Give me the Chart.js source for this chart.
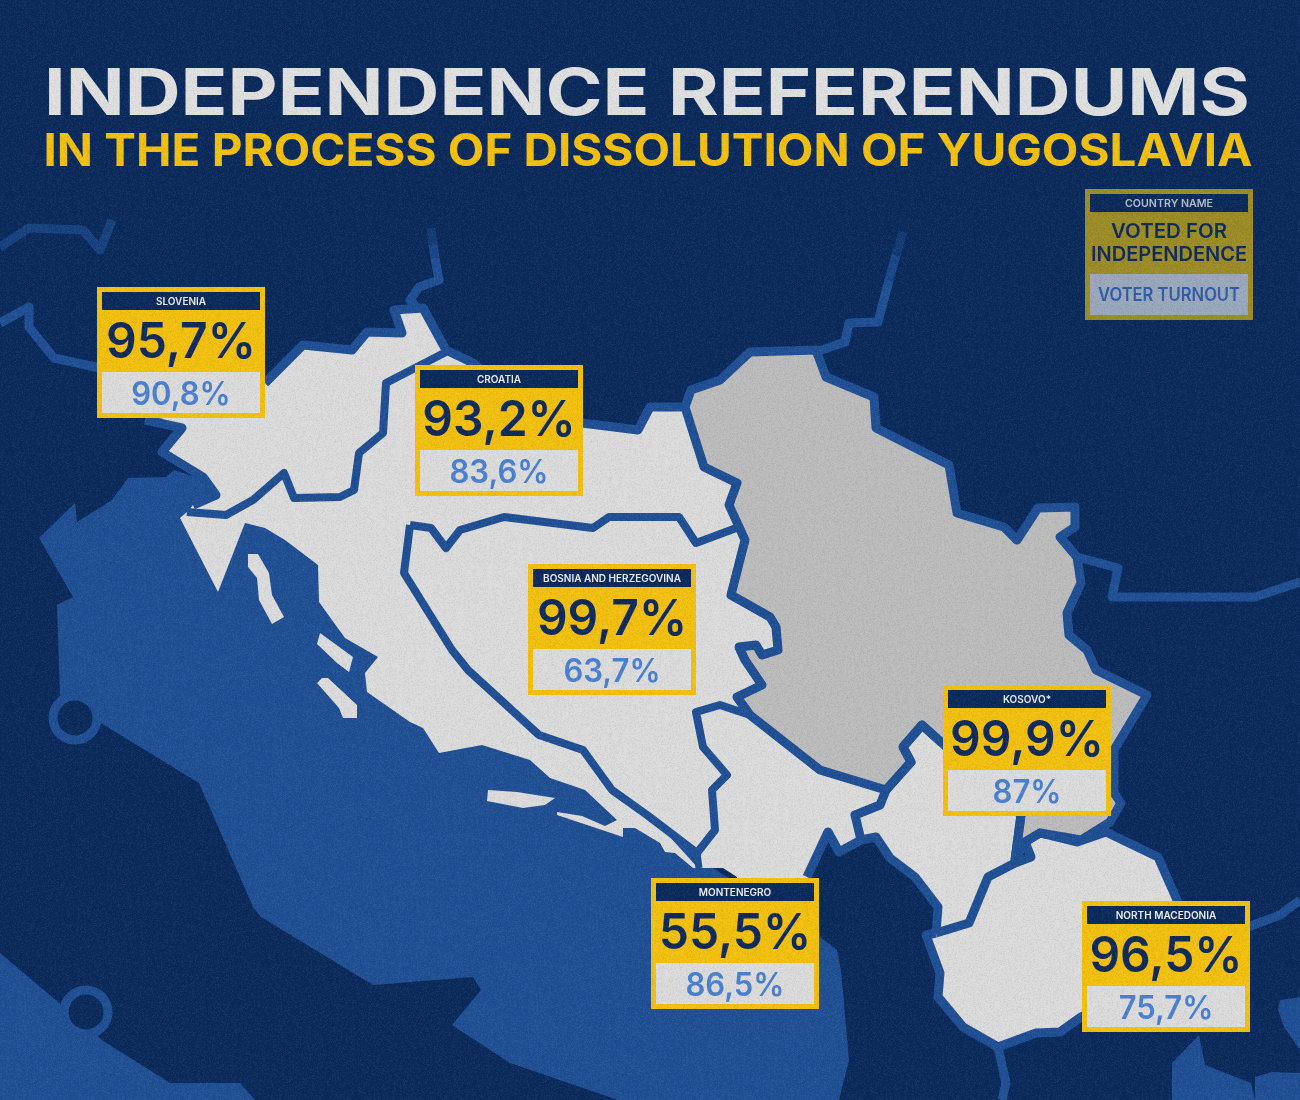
<!DOCTYPE html>
<html>
<head>
<meta charset="utf-8">
<title>Independence referendums</title>
<script src="https://cdn.jsdelivr.net/npm/chart.js@4"></script>
<style>
  html, body { margin: 0; padding: 0; background: #0c2b5e; }
  canvas { display: block; }
</style>
</head>
<body>
<canvas id="map" width="1300" height="1100"></canvas>
<script>
// values
const countries = ["SLOVENIA", "CROATIA", "BOSNIA AND HERZEGOVINA", "KOSOVO*", "MONTENEGRO", "NORTH MACEDONIA"];
const votedFor = ["95,7%", "93,2%", "99,7%", "99,9%", "55,5%", "96,5%"];
const turnout = ["90,8%", "83,6%", "63,7%", "87%", "86,5%", "75,7%"];
const cardX = [97, 415, 528, 943, 651, 1082];
const cardY = [287, 365, 564, 685, 878, 901];

// map outlines, in picture units
const adriatic = [[128,478],[166,477],[174,470],[205,480],[300,520],[400,650],[600,760],[700,860],[740,885],[815,885],[820,937],[837,950],[841,970],[849,1060],[839,1100],[618,1100],[510,1063],[452,1025],[481,990],[473,977],[373,985],[261,917],[253,907],[199,783],[104,725],[60,695],[57,605],[73,597],[39,538],[75,503],[77,522],[112,500]];
const sicily = [[0,953],[58,1002],[102,1040],[170,1083],[240,1083],[255,1100],[0,1100]];
const greeceA = [[1199,1035],[1205,1065],[1251,1083],[1255,1100],[1172,1100],[1172,1063]];
const greeceB = [[1280,1000],[1300,997],[1300,1050],[1284,1027],[1278,1010]];
const greeceC = [[1255,1077],[1272,1072],[1300,1073],[1300,1100],[1255,1100]];
const cityDots = [[75,718],[86,1012]];

const slovenia = [[145,420],[240,410],[265,383],[303,345],[352,350],[367,332],[402,333],[394,310],[423,308],[446,352],[386,383],[383,433],[359,453],[354,490],[340,497],[294,498],[284,473],[253,500],[226,515],[187,512],[193,505],[216,495],[203,477],[162,452],[182,428]];
const croatia = [[446,352],[473,363],[500,390],[582,423],[638,430],[650,407],[685,407],[704,467],[737,483],[729,505],[745,540],[700,600],[600,650],[650,815],[698,868],[693,868],[675,853],[665,852],[660,843],[635,828],[623,828],[623,837],[557,815],[557,812],[582,816],[605,826],[617,820],[585,790],[550,778],[530,760],[482,745],[439,753],[423,728],[410,722],[367,692],[365,673],[378,657],[345,638],[319,602],[318,565],[285,540],[265,528],[245,523],[218,592],[180,518],[187,512],[226,515],[253,500],[284,473],[294,498],[340,497],[354,490],[359,453],[383,433],[386,383]];
const bosnia = [[410,525],[431,528],[446,548],[460,530],[504,517],[593,528],[609,517],[679,517],[696,543],[739,527],[745,540],[731,595],[770,617],[776,627],[778,650],[762,655],[756,645],[739,647],[745,660],[762,685],[737,697],[750,715],[720,705],[696,712],[703,747],[727,775],[712,790],[715,830],[697,853],[647,815],[612,790],[583,750],[539,735],[468,670],[452,650],[404,573]];
const serbia = [[685,407],[691,390],[720,380],[750,352],[816,350],[826,377],[874,397],[876,428],[949,465],[957,513],[1004,527],[1017,540],[1038,508],[1075,507],[1075,527],[1060,537],[1077,557],[1081,583],[1067,613],[1069,635],[1087,650],[1096,670],[1147,695],[1114,750],[1114,793],[1121,803],[1110,822],[1081,840],[1040,833],[1025,842],[1015,860],[1021,815],[942,743],[922,725],[903,747],[911,762],[886,790],[820,770],[750,715],[737,697],[762,685],[745,660],[739,647],[756,645],[762,655],[778,650],[776,627],[770,617],[731,595],[745,540],[729,505],[737,483],[704,467]];
const montenegro = [[697,853],[715,830],[712,790],[727,775],[703,747],[696,712],[720,705],[750,715],[820,770],[886,790],[880,805],[855,815],[861,840],[839,852],[828,832],[807,885],[737,885],[737,877],[723,868],[700,868]];
const kosovo = [[886,790],[911,762],[903,747],[922,725],[942,743],[1021,815],[1015,860],[988,877],[969,923],[936,933],[938,907],[915,877],[890,858],[876,837],[861,840],[855,815],[880,805]];
const macedonia = [[936,933],[969,923],[988,877],[1015,863],[1031,857],[1025,842],[1040,833],[1077,842],[1106,832],[1158,857],[1177,900],[1200,960],[1081,1017],[1060,1032],[1036,1033],[998,1047],[963,1027],[938,997],[940,973],[926,935]];
const islandA = [[488,790],[517,792],[555,798],[545,805],[523,808],[487,801]];
const islandC = [[317,683],[322,678],[328,678],[357,705],[357,718],[343,718],[339,708]];
const islandD = [[320,633],[353,657],[349,672],[337,663],[317,644]];
const islandE = [[248,554],[258,554],[269,573],[272,595],[284,617],[272,624],[259,600],[257,578],[248,567]];

const borderSloveniaN = [[145,420],[182,428],[162,452],[203,477],[216,495],[193,505]];
const borderSloveniaTop = [[265,383],[303,345],[352,350],[367,332],[402,333],[394,310],[423,308],[446,350]];
const borderSloHr = [[446,352],[386,383],[383,433],[359,453],[354,490],[340,497],[294,498],[284,473],[253,500],[226,515],[187,512]];
const borderCroatiaN = [[446,350],[473,363],[500,385],[582,423],[638,430],[650,407],[685,407]];
const borderMontenegro = [[886,790],[880,805],[855,815],[861,840],[839,852],[828,832],[807,877]];
const borderKosovoN = [[886,790],[911,762],[903,747],[922,725],[942,743]];
const borderKosovoE = [[1021,815],[1015,860]];
const borderKosovoW = [[861,840],[876,837],[890,858],[915,877],[938,907],[936,933]];
const borderBosniaSea = [[697,853],[699,868]];
const borderSouth = [[998,1047],[1006,1083],[1002,1100]];
const borderEastLow = [[1240,930],[1280,915],[1300,900]];
const borderNE = [[816,352],[845,342],[849,323],[878,322],[889,280]];
const borderE = [[1077,557],[1118,568],[1112,597],[1255,597],[1300,582]];
const borderN = [[417,308],[410,300],[419,287],[439,280],[435,258]];
const borderW = [[0,323],[29,307],[29,327],[54,358],[100,368]];
const midNE = [[889,280],[896,255]];
const midN = [[435,258],[433,244]];
const fadedNE = [[896,255],[903,232]];
const fadedN = [[433,244],[431,228]];
const fadedNW = [[0,247],[29,228],[83,230],[100,250],[112,220]];

const NAVY = "#0a2a5c", SEA = "#1f4f94", LAND = "#dcdcdc", SERBIA = "#bcbcbc", INK = "#0f2a5a";
const YELLOW = "#f2c00e", TURNOUT = "#4a80d2";

const pts = (list) => list.map((p) => ({ x: p[0], y: p[1] }));
const shape = (list, color) => ({
  data: pts(list.concat([list[0]])), showLine: true, fill: "shape", backgroundColor: color,
  borderColor: color, borderWidth: 0, pointRadius: 0, tension: 0
});
const line = (list, color, width) => ({
  data: pts(list), showLine: true, fill: false, borderColor: color, borderWidth: width || 9,
  pointRadius: 0, tension: 0, borderJoinStyle: "round", borderCapStyle: "butt"
});

// painted bottom to top
const layers = [
  shape(adriatic, SEA), shape(sicily, SEA), shape(greeceA, SEA), shape(greeceB, SEA), shape(greeceC, SEA),
  { data: pts(cityDots), pointRadius: 22, borderWidth: 9, borderColor: SEA, backgroundColor: NAVY, pointStyle: "circle" },
  line(fadedNW, "#17427f"), line(midNE, "#194689"), line(midN, "#194689"), line(fadedNE, "#123a74"), line(fadedN, "#123a74"),
  line(borderNE, SEA), line(borderE, SEA), line(borderN, SEA), line(borderW, SEA),
  line(borderSouth, SEA), line(borderEastLow, SEA),
  shape(croatia, LAND), shape(slovenia, LAND), shape(bosnia, LAND), shape(montenegro, LAND),
  shape(serbia, SERBIA), shape(kosovo, LAND), shape(macedonia, LAND),
  shape(islandA, LAND), shape(islandC, LAND), shape(islandD, LAND), shape(islandE, LAND),
  line(borderSloveniaN, SEA), line(borderSloveniaTop, SEA), line(borderSloHr, SEA, 8), line(borderCroatiaN, SEA),
  line(bosnia.concat([bosnia[0]]), SEA, 8), line(borderBosniaSea, SEA, 7),
  line(serbia.concat([serbia[0]]), SEA), line(borderMontenegro, SEA), line(borderKosovoN, SEA),
  line(borderKosovoE, SEA), line(borderKosovoW, SEA), line(macedonia.concat([macedonia[0]]), SEA)
];
layers.forEach((d, i) => { d.order = layers.length - i; });

const FONT = "Inter, 'Noto Sans', sans-serif";

// text is stretched a bit, the installed fonts are narrower than the original one
function text(ctx, str, cx, base, font, color, stretch, width) {
  ctx.save();
  ctx.font = font;
  ctx.fillStyle = color;
  ctx.textAlign = "center";
  ctx.textBaseline = "alphabetic";
  let sx = stretch || 1;
  if (width) sx = width / ctx.measureText(str).width;
  ctx.translate(cx, base);
  ctx.scale(sx, 1);
  ctx.fillText(str, 0, 0);
  ctx.restore();
}

function card(ctx, x, y, colors) {
  ctx.fillStyle = colors.frame;
  ctx.fillRect(x, y, 168, 131);
  ctx.fillStyle = colors.head;
  ctx.fillRect(x + 5, y + 5, 158, 18);
  ctx.fillStyle = colors.panel;
  ctx.fillRect(x + 5, y + 85, 158, 41);
}

// print grain of the original, a fixed tile so every run looks the same
function grainTile() {
  const tile = document.createElement("canvas");
  tile.width = tile.height = 256;
  const c = tile.getContext("2d"), img = c.createImageData(256, 256);
  let s = 12345;
  for (let i = 0; i < img.data.length; i += 4) {
    s = (s * 1103515245 + 12345) & 0x7fffffff;
    const v = (s >> 16) & 255;
    img.data[i] = img.data[i + 1] = img.data[i + 2] = v > 127 ? 255 : 0;
    img.data[i + 3] = (v & 127) / 127 * 14;
  }
  c.putImageData(img, 0, 0);
  return tile;
}

const overlay = {
  id: "overlay",
  afterDraw(chart) {
    const ctx = chart.ctx, sx = chart.scales.x, sy = chart.scales.y;
    text(ctx, "INDEPENDENCE REFERENDUMS", 647, 115, "700 65px " + FONT, "#e0e0e0", 1, 1206);
    text(ctx, "IN THE PROCESS OF DISSOLUTION OF YUGOSLAVIA", 648, 166, "700 45px " + FONT, YELLOW, 1, 1209);

    // legend card
    const lx = sx.getPixelForValue(1085), ly = sy.getPixelForValue(189);
    card(ctx, lx, ly, { frame: "#9b8c26", head: NAVY, panel: "#9aa8bd" });
    text(ctx, "COUNTRY NAME", lx + 84, ly + 18, "600 10px " + FONT, "#b8bec8", 1, 88);
    text(ctx, "VOTED FOR", lx + 84, ly + 49, "600 20px " + FONT, INK, 1, 116);
    text(ctx, "INDEPENDENCE", lx + 84, ly + 72, "600 20px " + FONT, INK, 1, 156);
    text(ctx, "VOTER TURNOUT", lx + 84, ly + 112, "600 18px " + FONT, "#2f5ba8", 1, 142);

    countries.forEach((name, i) => {
      const x = sx.getPixelForValue(cardX[i]), y = sy.getPixelForValue(cardY[i]);
      card(ctx, x, y, { frame: YELLOW, head: NAVY, panel: LAND });
      text(ctx, name, x + 84, y + 18, "600 10px " + FONT, "#eeeeee", 1.0);
      text(ctx, votedFor[i], x + 84, y + 71, "600 50px " + FONT, INK, 0.96);
      text(ctx, turnout[i], x + 84, y + 118, "600 32px " + FONT, TURNOUT, 0.97);
    });

    ctx.fillStyle = ctx.createPattern(grainTile(), "repeat");
    ctx.fillRect(0, 0, chart.width, chart.height);
  }
};

new Chart(document.getElementById("map"), {
  type: "scatter",
  data: { datasets: layers },
  options: {
    responsive: false,
    animation: false,
    devicePixelRatio: 1,
    layout: { padding: 0, autoPadding: false },
    plugins: { legend: { display: false }, tooltip: { enabled: false } },
    scales: {
      x: { type: "linear", display: false, min: 0, max: 1300 },
      y: { type: "linear", display: false, min: 0, max: 1100, reverse: true }
    }
  },
  plugins: [
    { id: "bg", beforeDraw(c) { c.ctx.fillStyle = NAVY; c.ctx.fillRect(0, 0, c.width, c.height); } },
    overlay
  ]
});
</script>
</body>
</html>
